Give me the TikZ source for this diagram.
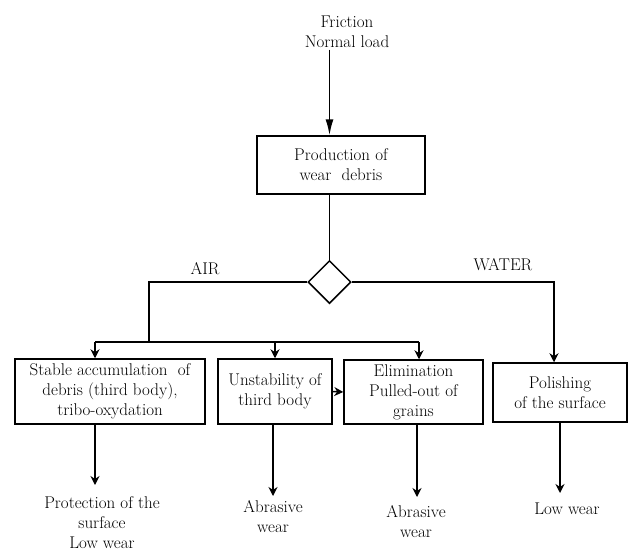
\documentclass[tikz,border=0pt]{standalone}
\usetikzlibrary{positioning, shapes.geometric, arrows.meta}

\begin{document}
\begin{tikzpicture}[x=1pt, y=-1pt, font=\fontsize{17}{20}\selectfont, line width=1.5pt,
	box/.style={draw, rectangle, align=center, inner sep=2pt},
	txt/.style={align=center, inner sep=1pt},
	arr/.style={-{Stealth[length=9pt, width=9pt]}}]
	\useasboundingbox (0,0) rectangle (630,552);
	\node[txt] (fric) at (347,32) {Friction\\Normal load};
	\node[box, minimum width=168, minimum height=58] (prod) at (341,165) {Production of\\wear \ debris};
	\node[draw, diamond, minimum size=43pt, inner sep=0pt] (dia) at (329.5,282) {};
	\node[txt] (air) at (205,269) {AIR}; \node[txt] (water) at (503,265) {WATER};
	% the four cases
	\node[box, minimum width=190, minimum height=65] (b1) at (110,391.5) {Stable accumulation \ of\\debris (third body),\\tribo-oxydation};
	\node[box, minimum width=114, minimum height=65] (b2) at (275,391.5) {Unstability of\\third body};
	\node[box, minimum width=139, minimum height=64] (b3) at (413.5,392) {Elimination\\Pulled-out of\\grains};
	\node[box, minimum width=134, minimum height=59] (b4) at (560,392.5) {Polishing\\of the surface};
	% connectors
	\draw[-{Latex[length=16pt, width=8pt]}] (fric.south -| dia) -- (prod.north -| dia);
	\draw (prod.south -| dia) -- (dia.north);
	\coordinate (bus) at (149,342); \coordinate (busL) at (95,342); \coordinate (busR) at (419,342);
	\draw (dia.west) -| (bus); \draw (busL) -- (busR);
	\draw[arr] (busL) -- (busL |- b1.north);
	\draw[arr] (b2.north |- busL) -- (b2.north);
	\draw[arr] (busR) -- (busR |- b3.north);
	\coordinate (wat) at (554,282);
	\draw[arr] (dia.east) -- (wat) -- (wat |- b4.north);
	\draw[arr] (b2.east) -- (b3.west);
	% results
	\coordinate (t1) at (95,485); \coordinate (t2) at (273,496); \coordinate (t3) at (417,497); \coordinate (t4) at (560,493);
	\draw[arr] (t1 |- b1.south) -- (t1); \draw[arr] (t2 |- b2.south) -- (t2);
	\draw[arr] (t3 |- b3.south) -- (t3); \draw[arr] (t4 |- b4.south) -- (t4);
	\node[txt, below=10pt of t1, xshift=7pt] (o1) {Protection of the\\surface\\Low wear};
	\node[txt, below=3pt of t2] (o2) {Abrasive\\wear};
	\node[txt, below=7pt of t3, xshift=-1pt] (o3) {Abrasive\\wear};
	\node[txt, below=8pt of t4, xshift=7pt] (o4) {Low wear};
\end{tikzpicture}
\end{document}
